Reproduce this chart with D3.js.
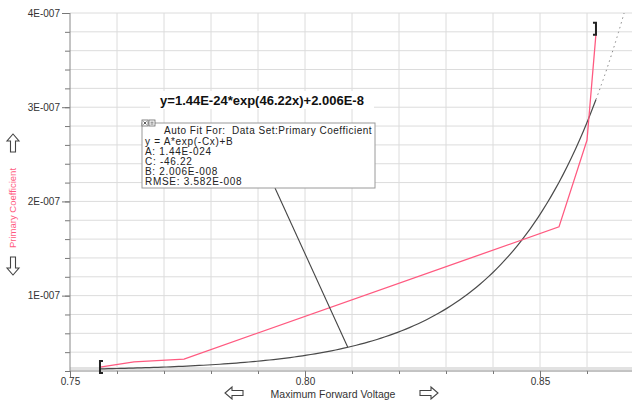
<!DOCTYPE html>
<html>
<head>
<meta charset="utf-8">
<script src="https://cdn.jsdelivr.net/npm/d3@7"></script>
<style>
  html, body { margin: 0; padding: 0; background: #fff; }
  svg { display: block; font-family: "Liberation Sans", Arial, sans-serif; }
</style>
</head>
<body>
<svg id="chart" width="632" height="400"></svg>
<script>
// Measured data set: Maximum Forward Voltage vs Primary Coefficient
const voltage = [0.75638, 0.76362, 0.77426, 0.85404, 0.86000, 0.86191];
const primaryCoefficient = [2.42e-8, 2.96e-8, 3.27e-8, 1.73e-7, 2.65e-7, 3.78e-7];

// Auto-fit parameters, model y = A*exp(-C*x) + B
const fitA = 1.44e-24;
const fitC = -46.22;
const fitB = 2.006e-8;
const fitEquation = "y=1.44E-24*exp(46.22x)+2.006E-8";
const fitInfoLines = [
  "y = A*exp(-Cx)+B",
  "A: 1.44E-024",
  "C: -46.22",
  "B: 2.006E-008",
  "RMSE: 3.582E-008"
];
const annotationAnchorX = 0.8091;

// Axis ticks
const xMajorTicks = [0.75, 0.80, 0.85];
const xMajorLabels = ["0.75", "0.80", "0.85"];
const yMajorTicks = [1e-7, 2e-7, 3e-7, 4e-7];
const yMajorLabels = ["1E-007", "2E-007", "3E-007", "4E-007"];

(function () {
const svg = d3.select("#chart");
const pLeft = 70, pRight = 634, pTop = 13, pBottom = 371;

const x = d3.scaleLinear().domain([0.75, 0.87]).range([pLeft, pRight]);
const y = d3.scaleLinear().domain([2e-8, 4e-7]).range([pBottom, pTop]);

const fit = v => fitA * Math.exp(-fitC * v) + fitB;

// clip for plot area
svg.append("defs").append("clipPath").attr("id", "plot")
  .append("rect").attr("x", pLeft).attr("y", pTop).attr("width", pRight - pLeft).attr("height", pBottom - pTop);

// grid
const xGrid = d3.range(0, 13).map(i => 0.75 + i * 0.01);
const yGrid = d3.range(1, 20).map(i => 2e-8 + i * 2e-8);
const grid = svg.append("g");
grid.selectAll("line.v").data(xGrid.slice(1)).join("line")
  .attr("x1", d => x(d)).attr("x2", d => x(d)).attr("y1", pTop).attr("y2", pBottom)
  .attr("stroke", "#dcdcdc").attr("stroke-width", 1);
grid.selectAll("line.h").data(yGrid).join("line")
  .attr("x1", pLeft).attr("x2", 632).attr("y1", d => y(d)).attr("y2", d => y(d))
  .attr("stroke", "#dcdcdc").attr("stroke-width", 1);
grid.append("line").attr("x1", pLeft).attr("x2", 632).attr("y1", pBottom - 2.5).attr("y2", pBottom - 2.5)
  .attr("stroke", "#e2e2e2").attr("stroke-width", 3);

// axes
const yAxisMinor = d3.axisLeft(y).tickValues(yGrid.concat([2e-8])).tickSize(5).tickFormat("");
svg.append("g").attr("transform", `translate(${pLeft},0)`).call(yAxisMinor)
  .call(g => g.select(".domain").remove())
  .call(g => g.selectAll("line").attr("stroke", "#777"));
const yAxisMajor = d3.axisLeft(y).tickValues(yMajorTicks).tickSize(8).tickPadding(2)
  .tickFormat((d, i) => yMajorLabels[i]);
svg.append("g").attr("transform", `translate(${pLeft},0)`).call(yAxisMajor)
  .call(g => g.select(".domain").remove())
  .call(g => g.selectAll("line").attr("stroke", "#777"))
  .call(g => g.selectAll("text").attr("font-size", 10).attr("fill", "#333")
    .attr("font-family", "Liberation Sans, Arial, sans-serif"));

const xAxisMinor = d3.axisBottom(x).tickValues(xGrid.slice(0, 12)).tickSize(3).tickFormat("");
svg.append("g").attr("transform", `translate(0,${pBottom})`).call(xAxisMinor)
  .call(g => g.select(".domain").remove())
  .call(g => g.selectAll("line").attr("stroke", "#777"));
const xAxisMajor = d3.axisBottom(x).tickValues(xMajorTicks).tickSize(6).tickPadding(1)
  .tickFormat((d, i) => xMajorLabels[i]);
svg.append("g").attr("transform", `translate(0,${pBottom})`).call(xAxisMajor)
  .call(g => g.select(".domain").remove())
  .call(g => g.selectAll("line").attr("stroke", "#777"))
  .call(g => g.selectAll("text").attr("font-size", 10).attr("fill", "#333")
    .attr("font-family", "Liberation Sans, Arial, sans-serif"));

svg.append("line").attr("x1", pLeft).attr("x2", pLeft).attr("y1", pTop).attr("y2", pBottom)
  .attr("stroke", "#888");
svg.append("line").attr("x1", pLeft).attr("x2", 632).attr("y1", pBottom).attr("y2", pBottom)
  .attr("stroke", "#888");

// axis titles
svg.append("text").attr("x", 333).attr("y", 398).attr("text-anchor", "middle")
  .attr("font-size", 10.5).attr("fill", "#333").text("Maximum Forward Voltage");
svg.append("text").attr("transform", "translate(16,208) rotate(-90)").attr("text-anchor", "middle")
  .attr("font-size", 9.5).attr("fill", "#ff5a80").text("Primary Coefficient");

// outline arrows (scroll hints)
function arrow(cx, cy, angle) {
  const p = "M-9,-2.5 L2,-2.5 L2,-6 L9,0 L2,6 L2,2.5 L-9,2.5 Z";
  svg.append("path").attr("d", p)
    .attr("transform", `translate(${cx},${cy}) rotate(${angle})`)
    .attr("fill", "#fff").attr("stroke", "#444").attr("stroke-width", 1.1);
}
arrow(234, 393, 180);
arrow(429, 393, 0);
arrow(13, 143, -90);
arrow(13, 266, 90);

const plot = svg.append("g").attr("clip-path", "url(#plot)");

// fitted curve over the data range, then dotted extrapolation
const x0 = voltage[0], x1 = voltage[voltage.length - 1];
const solidX = d3.range(0, 121).map(i => x0 + (x1 - x0) * i / 120);
const dotX = d3.range(0, 41).map(i => x1 + (0.8685 - x1) * i / 40);
const line = d3.line().x(d => x(d)).y(d => y(fit(d)));
plot.append("path").attr("d", line(solidX)).attr("fill", "none")
  .attr("stroke", "#4a4a4a").attr("stroke-width", 1.2);
plot.append("path").attr("d", line(dotX)).attr("fill", "none")
  .attr("stroke", "#888").attr("stroke-width", 1).attr("stroke-dasharray", "1.5,3.5");

// data line
const dataLine = d3.line().x((d, i) => x(voltage[i])).y(d => y(d));
plot.append("path").attr("d", dataLine(primaryCoefficient)).attr("fill", "none")
  .attr("stroke", "#ff5a80").attr("stroke-width", 1.3);

// range brackets
const bx0 = x(voltage[0]), by0 = y(primaryCoefficient[0]);
svg.append("path").attr("d", `M${bx0 + 3},${by0 - 6} L${bx0},${by0 - 6} L${bx0},${by0 + 6} L${bx0 + 3},${by0 + 6}`)
  .attr("fill", "none").attr("stroke", "#222").attr("stroke-width", 2);
const bx1 = x(voltage[voltage.length - 1]), by1 = y(primaryCoefficient[primaryCoefficient.length - 1]) - 5;
svg.append("path").attr("d", `M${bx1 - 3},${by1 - 6} L${bx1},${by1 - 6} L${bx1},${by1 + 6} L${bx1 - 3},${by1 + 6}`)
  .attr("fill", "none").attr("stroke", "#222").attr("stroke-width", 2);

// equation label
svg.append("rect").attr("x", 150).attr("y", 91).attr("width", 224).attr("height", 18).attr("fill", "#fff");
svg.append("text").attr("x", 262).attr("y", 105).attr("text-anchor", "middle")
  .attr("font-size", 13).attr("font-weight", "bold").attr("fill", "#111").text(fitEquation);

// leader from fit info box to curve
svg.append("line").attr("x1", 275).attr("y1", 188)
  .attr("x2", x(annotationAnchorX)).attr("y2", y(fit(annotationAnchorX)))
  .attr("stroke", "#444").attr("stroke-width", 1.1);

// fit info box
const bx = 142, by = 123, bw = 233, bh = 65;
svg.append("rect").attr("x", bx).attr("y", by).attr("width", bw).attr("height", bh)
  .attr("fill", "#fff").attr("stroke", "#9a9a9a").attr("stroke-width", 1);
// small window buttons
svg.append("rect").attr("x", bx).attr("y", by - 3).attr("width", 6).attr("height", 6)
  .attr("fill", "#fff").attr("stroke", "#666").attr("stroke-width", 0.8);
svg.append("path").attr("d", `M${bx + 1.5},${by - 1.5} L${bx + 4.5},${by + 1.5} M${bx + 4.5},${by - 1.5} L${bx + 1.5},${by + 1.5}`)
  .attr("stroke", "#333").attr("stroke-width", 0.8);
svg.append("rect").attr("x", bx + 7).attr("y", by - 3).attr("width", 6).attr("height", 6)
  .attr("fill", "#fff").attr("stroke", "#666").attr("stroke-width", 0.8);
svg.append("path").attr("d", `M${bx + 8.5},${by - 0.8} L${bx + 11.5},${by - 0.8} M${bx + 8.5},${by + 1} L${bx + 11.5},${by + 1}`)
  .attr("stroke", "#333").attr("stroke-width", 0.7);

svg.append("text").attr("x", bx + 22).attr("y", by + 11).attr("font-size", 10)
  .attr("letter-spacing", 0.5).attr("fill", "#222")
  .text("Auto Fit For:\u00a0 Data Set:Primary Coefficient");
svg.selectAll("text.info").data(fitInfoLines).join("text")
  .attr("x", bx + 3).attr("y", (d, i) => by + 21.5 + i * 10.2)
  .attr("font-size", 10).attr("letter-spacing", 0.7).attr("fill", "#222").text(d => d);
})();
</script>
</body>
</html>
